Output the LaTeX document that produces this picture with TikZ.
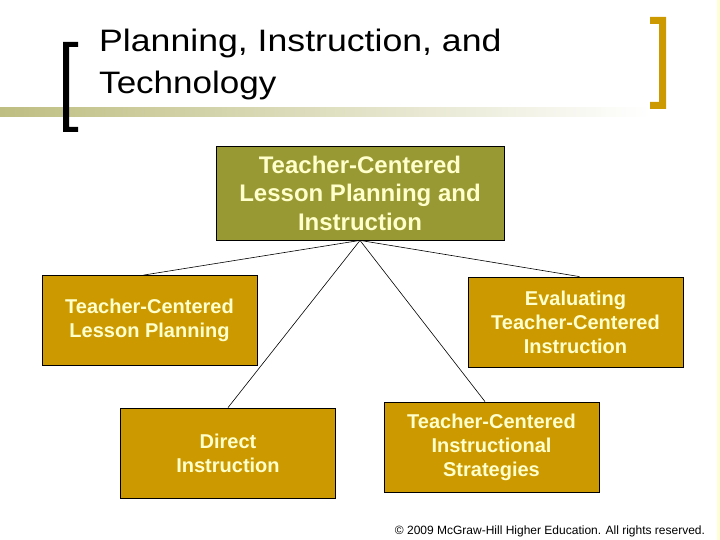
\documentclass[tikz,border=0pt]{standalone}
\usepackage{fontspec}
\setmainfont{Liberation Sans}
\usetikzlibrary{calc}
\definecolor{olivebox}{RGB}{153,153,51}
\definecolor{goldbox}{RGB}{204,153,0}
\definecolor{creamtext}{RGB}{255,255,204}
\definecolor{barolive}{RGB}{190,190,130}
\definecolor{edgeyellow}{RGB}{255,255,214}
\tikzset{
  topbox/.style={draw=black, line width=0.8pt, fill=olivebox, text=creamtext,
    minimum width=288pt, minimum height=94pt, inner sep=0pt, align=center,
    font=\fontsize{24}{28.5}\selectfont\bfseries},
  subbox/.style={draw=black, line width=0.8pt, fill=goldbox, text=creamtext,
    minimum width=215pt, minimum height=90pt, inner sep=0pt, align=center,
    font=\fontsize{20}{24}\selectfont\bfseries},
  titletext/.style={anchor=base west, inner sep=0pt, text=black,
    font=\fontsize{31}{36}\selectfont},
  conn/.style={draw=black, line width=0.6pt}
}
\begin{document}
\begin{tikzpicture}[x=1pt, y=-1pt]
\useasboundingbox (0,0) rectangle (720,540);
\fill[white] (0,0) rectangle (720,540);
% right edge strip
\fill[edgeyellow] (717,0) rectangle (720,540);
% gradient bar
\shade[left color=barolive, right color=white] (0,108) rectangle (650,117);
% left bracket
\fill[black] (63,42) -- (78,42) -- (78,47) -- (69,47) -- (69,127) -- (78,127)
  -- (78,132) -- (63,132) -- cycle;
% right bracket
\fill[goldbox] (650,17) -- (666,17) -- (666,109) -- (650,109) -- (650,102)
  -- (659,102) -- (659,24) -- (650,24) -- cycle;
% title
\node[titletext] (t1) at (99,52) {\scalebox{1.15}[1]{Planning, Instruction, and}};
\node[titletext] (t2) at (99,94) {\scalebox{1.13}[1]{Technology}};
% boxes
\node[topbox] (T) at (360,193) {Teacher-Centered\\Lesson Planning and\\Instruction};
\node[subbox] (L) at (149.5,320.5) {Teacher-Centered\\Lesson Planning};
\node[subbox] (R) at (575.5,322) {Evaluating\\Teacher-Centered\\Instruction};
\node[subbox] (D) at (228,453) {Direct\\Instruction};
\node[subbox] (S) at (491.5,447) {Teacher-Centered\\Instructional\\Strategies};
% connectors
\draw[conn] (T.south) -- ($(L.north)+(-6,0)$);
\draw[conn] (T.south) -- ($(R.north)+(4,0)$);
\draw[conn] (T.south) -- (D.north);
\draw[conn] (T.south) -- ($(S.north)+(-6.5,0)$);
% copyright
\node[anchor=base, inner sep=0pt, font=\fontsize{12}{14}\selectfont] (cp) at (550,534)
  {\textcopyright\ 2009 McGraw-Hill Higher Education. All rights reserved.};
\end{tikzpicture}
\end{document}
